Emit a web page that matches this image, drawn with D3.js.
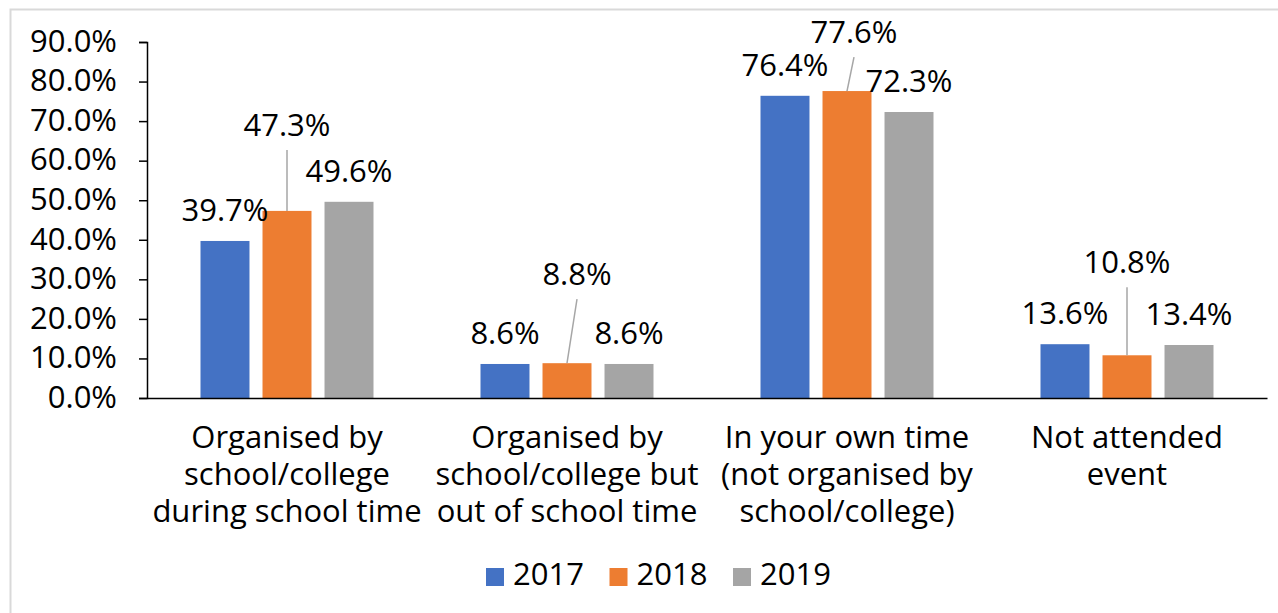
<!DOCTYPE html>
<html>
<head>
<meta charset="utf-8">
<script src="https://cdn.jsdelivr.net/npm/d3@7"></script>
<style>
  body { margin: 0; background: #fff; }
  svg { display: block; font-family: "Open Sans", sans-serif; }
</style>
</head>
<body>
<div id="chart"></div>
<script>
var categories = [
    ["Organised by", "school/college", "during school time"],
    ["Organised by", "school/college but", "out of school time"],
    ["In your own time", "(not organised by", "school/college)"],
    ["Not attended", "event"]
];
var years = ["2017", "2018", "2019"];
var values2017 = [39.7, 8.6, 76.4, 13.6];
var values2018 = [47.3, 8.8, 77.6, 10.8];
var values2019 = [49.6, 8.6, 72.3, 13.4];
var yTicks = [0, 10, 20, 30, 40, 50, 60, 70, 80, 90];

// labels that were dragged away from their bar in the original (2018 series)
var movedLabels = { 0: [0, -75], 1: [10, -78], 2: [7, -48], 3: [0, -82] };

function init() {
    var width = 1278, height = 613;
    var colors = ["#4472C4", "#ED7D31", "#A5A5A5"];
    var series = [values2017, values2018, values2019];

    var svg = d3.select("#chart")
        .append("svg")
        .attr("width", width)
        .attr("height", height);

    // chart border
    svg.append("rect")
        .attr("x", 10.5)
        .attr("y", 9.5)
        .attr("width", 1300)
        .attr("height", 700)
        .attr("fill", "none")
        .attr("stroke", "#d9d9d9")
        .attr("stroke-width", 2);

    var xScale = d3.scaleBand()
        .domain(d3.range(categories.length))
        .range([147, 1267]);

    var inner = d3.scaleBand()
        .domain(d3.range(years.length))
        .range([53.5, 226.5])
        .paddingInner(0.21);

    var yScale = d3.scaleLinear()
        .domain([0, 90])
        .range([398, 42]);

    // bars
    series.forEach(function (vals, s) {
        svg.append("g").selectAll("rect")
            .data(vals)
            .enter()
            .append("rect")
            .attr("x", function (d, i) { return xScale(i) + inner(s); })
            .attr("y", function (d) { return yScale(d); })
            .attr("width", inner.bandwidth())
            .attr("height", function (d) { return yScale(0) - yScale(d); })
            .attr("fill", colors[s]);
    });

    // y axis
    var yAxis = svg.append("g")
        .attr("transform", "translate(147,0)")
        .call(d3.axisLeft(yScale)
            .tickValues(yTicks)
            .tickSize(8)
            .tickPadding(22)
            .tickFormat(function (d) { return d.toFixed(1) + "%"; }));
    yAxis.select(".domain").attr("stroke", "#000").attr("stroke-width", 1.5);
    yAxis.selectAll(".tick line").attr("stroke", "#000").attr("stroke-width", 1.5);
    yAxis.selectAll(".tick text")
        .attr("font-size", 31)
        .attr("font-family", "Open Sans, sans-serif")
        .attr("fill", "#000")
        .attr("dy", "0.3em");

    // x axis line
    var xAxis = svg.append("g")
        .attr("transform", "translate(0," + yScale(0) + ")")
        .call(d3.axisBottom(xScale).tickSize(0).tickFormat(""));
    xAxis.select(".domain").attr("stroke", "#000").attr("stroke-width", 1.5);

    // category labels
    categories.forEach(function (lines, i) {
        var t = svg.append("text")
            .attr("text-anchor", "middle")
            .attr("font-size", 31)
            .attr("fill", "#000");
        lines.forEach(function (line, k) {
            t.append("tspan")
                .attr("x", xScale(i) + xScale.bandwidth() / 2)
                .attr("y", 448 + k * 37)
                .text(line);
        });
    });

    // data labels
    series.forEach(function (vals, s) {
        vals.forEach(function (v, i) {
            var cx = xScale(i) + inner(s) + inner.bandwidth() / 2;
            var top = yScale(v);
            var lx = cx, ly = top - 20;
            if (s === 1 && movedLabels[i]) {
                lx = cx + movedLabels[i][0];
                ly = top + movedLabels[i][1];
                svg.append("line")
                    .attr("x1", lx)
                    .attr("y1", ly + 14)
                    .attr("x2", cx)
                    .attr("y2", top)
                    .attr("stroke", "#a6a6a6")
                    .attr("stroke-width", 1.5);
            }
            svg.append("text")
                .attr("x", lx)
                .attr("y", ly)
                .attr("text-anchor", "middle")
                .attr("font-size", 31)
                .attr("fill", "#000")
                .text(v.toFixed(1) + "%");
        });
    });

    // legend
    var legend = svg.append("g");
    years.forEach(function (y, s) {
        var x0 = 486 + s * 123.5;
        legend.append("rect")
            .attr("x", x0)
            .attr("y", 568)
            .attr("width", 18)
            .attr("height", 18)
            .attr("fill", colors[s]);
        legend.append("text")
            .attr("x", x0 + 27)
            .attr("y", 585)
            .attr("font-size", 31)
            .attr("fill", "#000")
            .text(y);
    });
}

window.onload = init;
</script>
</body>
</html>
